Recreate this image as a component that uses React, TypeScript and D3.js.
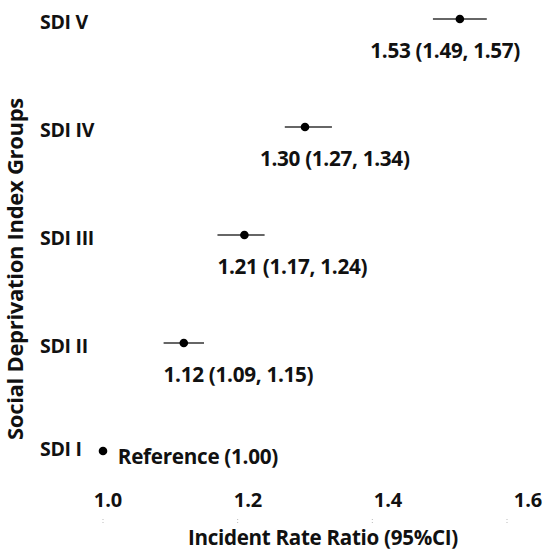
import { useEffect, useRef } from "react";
import * as d3 from "d3";

// Forest plot: IRR with 95% CI by SDI group
const GROUPS = ["SDI V", "SDI IV", "SDI III", "SDI II", "SDI I"];
const IRR = [1.53, 1.3, 1.21, 1.12, 1.0];
const LOWER: (number | null)[] = [1.49, 1.27, 1.17, 1.09, null];
const UPPER: (number | null)[] = [1.57, 1.34, 1.24, 1.15, null];
const VALUE_LABELS = [
  "1.53 (1.49, 1.57)",
  "1.30 (1.27, 1.34)",
  "1.21 (1.17, 1.24)",
  "1.12 (1.09, 1.15)",
  "Reference (1.00)",
];
// where each value label starts, in IRR units
const LABEL_AT = [1.397, 1.233, 1.17, 1.09, 1.022];
const X_TICKS = [1.0, 1.2, 1.4, 1.6];

const W = 544;
const H = 551;
const FONT = "'Open Sans', Lato, sans-serif";

export default function App() {
  const svgRef = useRef<SVGSVGElement>(null);

  useEffect(() => {
    const svg = d3.select(svgRef.current);
    svg.selectAll("*").remove();

    const x = d3.scaleLinear().domain([1, 1.6]).range([103, 507]);
    // tick labels sit a bit right of their tick marks in the original
    const xLab = d3.scaleLinear().domain([1, 1.6]).range([108, 528]);
    const y = d3.scalePoint<string>().domain(GROUPS).range([19, 451]);

    const g = svg.append("g").attr("font-family", FONT).attr("font-weight", 700).attr("fill", "#111");

    // category labels
    GROUPS.forEach((name) => {
      g.append("text")
        .attr("x", 40)
        .attr("y", (y(name) as number) + (name === "SDI I" ? 5 : 10))
        .attr("font-size", 19.5)
        .attr("letter-spacing", -0.3)
        .text(name);
    });

    // whiskers + points
    GROUPS.forEach((name, i) => {
      const cy = y(name) as number;
      const lo = LOWER[i];
      const hi = UPPER[i];
      if (lo != null && hi != null) {
        g.append("line")
          .attr("x1", x(lo)).attr("x2", x(hi))
          .attr("y1", cy).attr("y2", cy)
          .attr("stroke", "#333")
          .attr("stroke-width", 1.6);
      }
      g.append("circle")
        .attr("cx", x(IRR[i]))
        .attr("cy", cy)
        .attr("r", 4.3)
        .attr("fill", "#000");

      const isRef = lo == null;
      g.append("text")
        .attr("x", x(LABEL_AT[i]))
        .attr("y", cy + (isRef ? 13 : 38.5))
        .attr("font-size", 20.7)
        .attr("letter-spacing", -0.3)
        .text(VALUE_LABELS[i]);
    });

    // x tick labels + tiny tick marks
    X_TICKS.forEach((t) => {
      g.append("text")
        .attr("x", xLab(t))
        .attr("y", 507)
        .attr("text-anchor", "middle")
        .attr("font-size", 20)
        .text(d3.format(".1f")(t));
      g.append("line")
        .attr("x1", x(t)).attr("x2", x(t))
        .attr("y1", 519).attr("y2", 524)
        .attr("stroke", "#bbb")
        .attr("stroke-width", 1)
        .attr("stroke-dasharray", "1,2");
    });

    // axis titles
    g.append("text")
      .attr("x", 323)
      .attr("y", 545)
      .attr("text-anchor", "middle")
      .attr("font-size", 20.6)
      .attr("letter-spacing", -0.3)
      .text("Incident Rate Ratio (95%CI)");

    g.append("text")
      .attr("transform", "translate(23,269) rotate(-90)")
      .attr("text-anchor", "middle")
      .attr("font-size", 22)
      .attr("letter-spacing", -0.3)
      .text("Social Deprivation Index Groups");
  }, []);

  return (
    <svg
      ref={svgRef}
      width={W}
      height={H}
      style={{ position: "absolute", left: 0, top: 0, background: "#fff" }}
    />
  );
}
